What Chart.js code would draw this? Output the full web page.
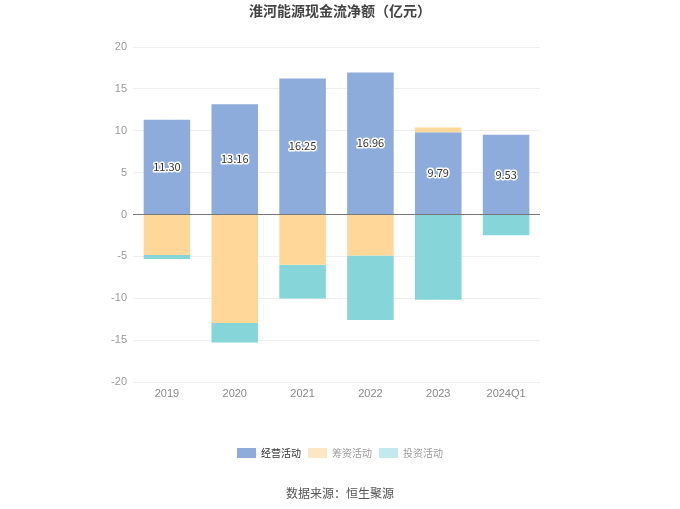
<!DOCTYPE html>
<html>
<head>
<meta charset="utf-8">
<script src="https://cdn.jsdelivr.net/npm/chart.js@4/dist/chart.umd.min.js"></script>
<style>
  html, body { margin: 0; padding: 0; background: #fff; }
  #wrap { width: 680px; height: 509px; }
</style>
</head>
<body>
<div id="wrap"><canvas id="c"></canvas></div>
<script>
// 数据（亿元）
const years = ['2019', '2020', '2021', '2022', '2023', '2024Q1'];
const operating = [11.30, 13.16, 16.25, 16.96, 9.79, 9.53];   // 经营活动
const financing = [-4.83, -12.97, -5.99, -4.91, 0.60, 0];     // 筹资活动
const investing = [-0.48, -2.32, -4.03, -7.70, -10.18, -2.48]; // 投资活动
const yTicks = [-20, -15, -10, -5, 0, 5, 10, 15, 20];

const colors = ['#8eacdb', '#ffd799', '#86d5d9'];
const legendColors = ['#8eacdb', '#fde6c6', '#c2e9ee'];
const legendText = ['#333', '#999', '#999'];

// 经营活动柱内数值
const barLabels = {
  id: 'barLabels',
  afterDatasetsDraw(chart) {
    const ctx = chart.ctx;
    const meta = chart.getDatasetMeta(0);
    ctx.save();
    ctx.font = '11px "Noto Sans CJK SC", "Noto Sans", sans-serif';
    ctx.textAlign = 'center';
    ctx.textBaseline = 'middle';
    ctx.lineJoin = 'round';
    meta.data.forEach((bar, i) => {
      const y = (bar.y + bar.base) / 2;
      const t = operating[i].toFixed(2);
      ctx.lineWidth = 3;
      ctx.strokeStyle = '#fff';
      ctx.strokeText(t, bar.x, y);
      ctx.fillStyle = '#333';
      ctx.fillText(t, bar.x, y);
    });
    ctx.restore();
  }
};

new Chart(document.getElementById('c'), {
  type: 'bar',
  data: {
    labels: years,
    datasets: [
      { label: '经营活动', data: operating, backgroundColor: colors[0] },
      { label: '筹资活动', data: financing, backgroundColor: colors[1] },
      { label: '投资活动', data: investing, backgroundColor: colors[2] }
    ]
  },
  options: {
    responsive: true,
    maintainAspectRatio: false,
    animation: false,
    datasets: { bar: { categoryPercentage: 1, barPercentage: 0.686 } },
    layout: { padding: { left: 100, right: 100, top: 0, bottom: 0 } },
    scales: {
      x: {
        stacked: true,
        grid: { display: false, drawTicks: false },
        border: { display: false },
        ticks: { color: '#888', font: { size: 11 }, padding: 5 },
        afterFit: s => { s.height = 59; }
      },
      y: {
        stacked: true,
        min: -20, max: 20,
        afterBuildTicks: s => { s.ticks = yTicks.map(v => ({ value: v })); },
        grid: {
          drawTicks: false,
          color: c => c.tick && c.tick.value === 0 ? '#777' : '#eeeeee',
          lineWidth: 1
        },
        border: { display: false },
        ticks: { color: '#999', font: { size: 11 }, padding: 6 },
        afterFit: s => { s.width = 33; }
      },
      // 右侧留白，使图例与标题居中于画布
      yRight: {
        position: 'right',
        grid: { display: false, drawTicks: false },
        border: { display: false },
        ticks: { display: false },
        afterFit: s => { s.width = 40; }
      }
    },
    plugins: {
      title: {
        display: true,
        text: '淮河能源现金流净额（亿元）',
        color: '#444',
        font: { size: 14, weight: 'bold', family: '"Noto Sans CJK SC", sans-serif' },
        padding: { top: 2, bottom: 28.2 }
      },
      subtitle: {
        display: true,
        position: 'bottom',
        text: '数据来源：恒生聚源',
        color: '#555',
        font: { size: 12, family: '"Noto Sans CJK SC", sans-serif' },
        padding: { top: 17.8, bottom: 8.8 }
      },
      legend: {
        position: 'bottom',
        labels: {
          boxWidth: 19,
          boxHeight: 10,
          padding: 7,
          font: { size: 10, family: '"Noto Sans CJK SC", sans-serif' },
          generateLabels: chart => chart.data.datasets.map((d, i) => ({
            text: d.label,
            fillStyle: legendColors[i],
            strokeStyle: legendColors[i],
            lineWidth: 0,
            fontColor: legendText[i],
            datasetIndex: i
          }))
        }
      },
      tooltip: { enabled: false }
    }
  },
  plugins: [barLabels]
});
</script>
</body>
</html>
